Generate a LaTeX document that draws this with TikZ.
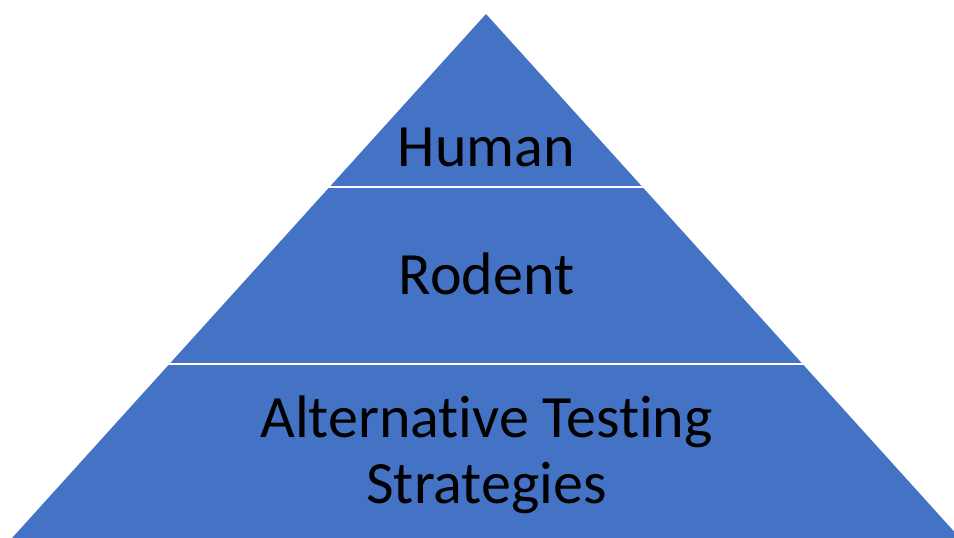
\documentclass[tikz,border=0pt]{standalone}
\usepackage{fontspec}
\setmainfont{Carlito}[Ligatures={NoCommon,NoContextual}]
\definecolor{pyrblue}{HTML}{4472C4}
\tikzset{
  layerlabel/.style={anchor=base, text=black, inner sep=0pt, font=\fontsize{60}{66}\selectfont},
  divider/.style={draw=white, line width=2.5pt}
}
\begin{document}
\begin{tikzpicture}[x=1pt,y=-1pt]
\useasboundingbox (0,0) rectangle (954,538);
\begin{scope}
\clip (0,0) rectangle (954,538);
\fill[pyrblue] (486,14) -- (-44,600) -- (1016,600) -- cycle;
\draw[divider] (300,187) -- (672,187);
\draw[divider] (140,364) -- (832,364);
\end{scope}
\node[layerlabel] (human) at (486.5,166) {Human};
\node[layerlabel] (rodent) at (486.5,294) {Rodent};
\node[layerlabel] (alt1) at (486.5,437) {Alternative Testing};
\node[layerlabel] (alt2) at (486.5,503) {Strategies};
\end{tikzpicture}
\end{document}
